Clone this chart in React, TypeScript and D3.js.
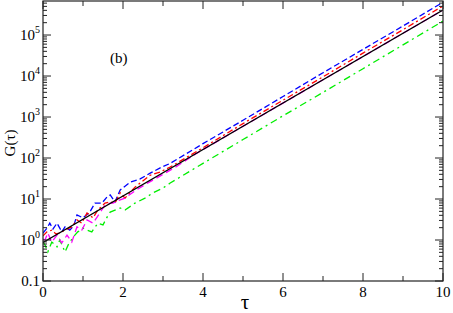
import { useEffect, useRef } from "react";
import * as d3 from "d3";

// tau values and G(tau)
const blackTau = [0, 10];
const blackG = [0.87, 4.07e5];

const blueTau = [0, 0.1, 0.17, 0.25, 0.35, 0.47, 0.55, 0.67, 0.77, 0.85, 1.0, 1.17, 1.3, 1.47, 1.6, 1.68, 1.8, 1.93, 2.18, 2.43, 2.68, 2.93, 3.18, 4, 5, 6, 7, 8, 9, 10];
const blueG = [1.48, 1.95, 2.57, 1.86, 2.57, 1.58, 2.09, 1.74, 2.24, 4.07, 3.47, 4.79, 7.94, 7.9, 11.2, 12.6, 8.5, 16.6, 25.7, 30.9, 42.7, 57.5, 74.1, 224, 832, 3160, 1.2e4, 4.47e4, 1.66e5, 6.3e5];

const redTau = [0, 0.1, 0.22, 0.32, 0.42, 0.55, 0.72, 0.85, 0.97, 1.1, 1.25, 1.37, 1.55, 1.68, 1.8, 1.93, 2.05, 2.3, 2.43, 2.68, 2.93, 3.18, 4, 5, 6, 7, 8, 9, 10];
const redG = [1.26, 1.58, 1.74, 1.41, 1.48, 1.74, 2.09, 3.09, 2.57, 4.57, 3.47, 5.37, 7.94, 8.51, 7.94, 14.1, 10.5, 19.5, 24.5, 38, 45.7, 60.3, 178, 692, 2570, 9550, 3.63e4, 1.35e5, 5.13e5];

const magentaTau = [0, 0.05, 0.12, 0.22, 0.35, 0.47, 0.6, 0.72, 0.85, 0.97, 1.1, 1.25, 1.42, 1.55, 1.68, 1.75, 1.93, 2.05, 2.3, 2.6, 3.0, 3.35, 3.85, 10];
const magentaG = [1.05, 1.0, 1.48, 0.89, 1.32, 0.85, 1.32, 0.89, 2.09, 1.74, 3.09, 2.57, 4.57, 7.08, 7.94, 7.94, 9.55, 10.5, 15.8, 24, 39.8, 63.1, 132, 4.07e5];

const greenTau = [0, 0.05, 0.12, 0.22, 0.35, 0.42, 0.55, 0.63, 0.75, 0.87, 1.0, 1.1, 1.22, 1.37, 1.5, 1.63, 1.68, 1.8, 1.93, 2.05, 2.3, 2.55, 2.75, 3.0, 3.18, 4, 5, 6, 7, 8, 9, 10];
const greenG = [0.89, 0.76, 0.51, 0.89, 0.68, 1.0, 0.51, 0.76, 1.17, 1.58, 1.95, 1.74, 1.58, 2.57, 2.34, 4.07, 4.79, 5.37, 6.03, 5.37, 7.94, 10.5, 14.1, 18.6, 24.5, 74, 282, 1070, 3980, 1.51e4, 5.75e4, 2.19e5];

const xTicks = [0, 2, 4, 6, 8, 10];
const yDecades = [-1, 0, 1, 2, 3, 4, 5];

export default function App() {
  const ref = useRef<SVGSVGElement | null>(null);

  useEffect(() => {
    if (!ref.current) return;
    const svg = d3.select(ref.current);
    svg.selectAll("*").remove();

    const width = 453;
    const height = 313;
    const margin = { top: 1, right: 10, bottom: 32, left: 43 };
    const font = "'Liberation Serif', serif";

    const x = d3.scaleLinear().domain([0, 10]).range([margin.left, width - margin.right]);
    const y = d3.scaleLog().domain([0.1, Math.pow(10, 5.83)]).range([height - margin.bottom, margin.top]);

    svg.append("rect").attr("width", width).attr("height", height).attr("fill", "white");

    svg.append("defs").append("clipPath").attr("id", "plot-clip")
      .append("rect")
      .attr("x", margin.left).attr("y", margin.top)
      .attr("width", width - margin.left - margin.right)
      .attr("height", height - margin.top - margin.bottom);

    const series = [
      { tau: blueTau, g: blueG, color: "#0000ff", dash: "6,3", w: 1.3 },
      { tau: redTau, g: redG, color: "#ff0000", dash: "6,3,2,3", w: 1.3 },
      { tau: greenTau, g: greenG, color: "#00ee00", dash: "7,4,2,4", w: 1.3 },
      { tau: magentaTau, g: magentaG, color: "#ff00ff", dash: "7,4", w: 1.3 },
      { tau: blackTau, g: blackG, color: "#000000", dash: null, w: 1.4 },
    ];

    const line = d3.line<[number, number]>().x(d => x(d[0])).y(d => y(d[1]));
    const lines = svg.append("g").attr("clip-path", "url(#plot-clip)");
    series.forEach(s => {
      const pts = s.tau.map((t, i) => [t, s.g[i]] as [number, number]);
      lines.append("path")
        .attr("d", line(pts))
        .attr("fill", "none")
        .attr("stroke", s.color)
        .attr("stroke-width", s.w)
        .attr("stroke-dasharray", s.dash);
    });

    const x0 = margin.left, x1 = width - margin.right;
    const y0 = height - margin.bottom, y1 = margin.top;
    const axisColor = "#222";

    // x ticks (bottom and top), inward
    const ax = svg.append("g").attr("stroke", axisColor).attr("stroke-width", 1);
    d3.range(0, 11).forEach(t => {
      const len = t % 2 === 0 ? 8 : 5;
      ax.append("line").attr("x1", x(t)).attr("x2", x(t)).attr("y1", y0).attr("y2", y0 - len);
      ax.append("line").attr("x1", x(t)).attr("x2", x(t)).attr("y1", y1).attr("y2", y1 + len);
    });

    // y ticks (left and right), inward
    yDecades.forEach(d => {
      for (let m = 1; m <= 9; m++) {
        const v = m * Math.pow(10, d);
        if (v > y.domain()[1]) break;
        const len = m === 1 ? 8 : 4;
        ax.append("line").attr("x1", x0).attr("x2", x0 + len).attr("y1", y(v)).attr("y2", y(v));
        ax.append("line").attr("x1", x1).attr("x2", x1 - len).attr("y1", y(v)).attr("y2", y(v));
      }
    });

    // frame
    svg.append("rect")
      .attr("x", x0).attr("y", y1)
      .attr("width", x1 - x0).attr("height", y0 - y1)
      .attr("fill", "none").attr("stroke", axisColor).attr("stroke-width", 1.2);

    // x tick labels
    svg.append("g").selectAll("text")
      .data(xTicks)
      .enter()
      .append("text")
      .attr("x", d => x(d))
      .attr("y", 297)
      .attr("text-anchor", "middle")
      .attr("font-family", font)
      .attr("font-size", 15)
      .text(d => String(d));

    // y tick labels
    const yl = svg.append("g").attr("font-family", font);
    yDecades.forEach(d => {
      const v = Math.pow(10, d);
      if (d === -1) {
        yl.append("text").attr("x", 40).attr("y", y(v) + 5)
          .attr("text-anchor", "end").attr("font-size", 15).text("0.1");
        return;
      }
      const t = yl.append("text").attr("x", 40).attr("y", y(v) + 5)
        .attr("text-anchor", "end").attr("font-size", 15);
      t.append("tspan").text("10");
      t.append("tspan").attr("font-size", 10).attr("dy", -7).text(String(d));
    });

    // axis titles
    svg.append("text")
      .attr("x", 245).attr("y", 309)
      .attr("text-anchor", "middle")
      .attr("font-family", font)
      .attr("font-size", 21)
      .text("τ");

    svg.append("text")
      .attr("transform", "translate(15,143) rotate(-90)")
      .attr("text-anchor", "middle")
      .attr("font-family", font)
      .attr("font-size", 15)
      .text("G(τ)");

    svg.append("text")
      .attr("x", 110).attr("y", 63)
      .attr("font-family", font)
      .attr("font-size", 15)
      .text("(b)");
  }, []);

  return (
    <div style={{ position: "absolute", left: 0, top: 0 }}>
      <svg ref={ref} width={453} height={313} style={{ display: "block" }} />
    </div>
  );
}
